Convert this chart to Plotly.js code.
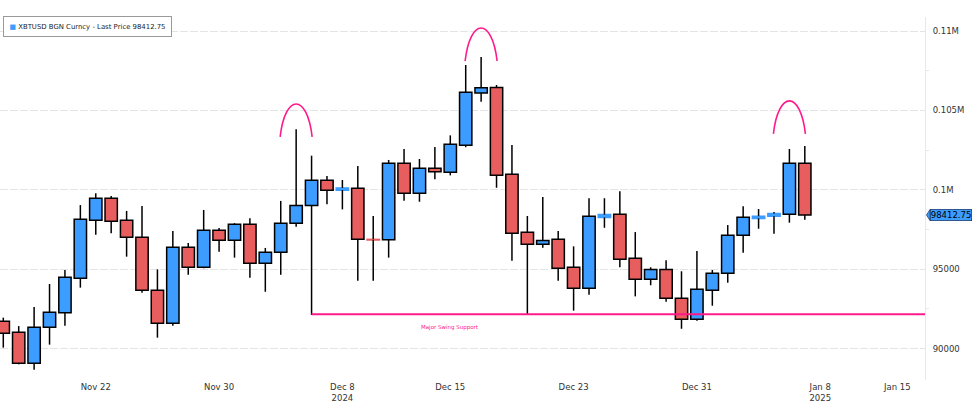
<!DOCTYPE html>
<html>
<head>
<meta charset="utf-8">
<script src="https://cdn.plot.ly/plotly-3.0.1.min.js"></script>
<style>html,body{margin:0;padding:0;background:#fff}#chart{width:978px;height:412px}</style>
</head>
<body>
<div id="chart"></div>
<script>
// ---- data (daily XBTUSD candles) ----
var dates = ['2024-11-16','2024-11-17','2024-11-18','2024-11-19','2024-11-20','2024-11-21','2024-11-22','2024-11-23','2024-11-24','2024-11-25','2024-11-26','2024-11-27','2024-11-28','2024-11-29','2024-11-30',
  '2024-12-01','2024-12-02','2024-12-03','2024-12-04','2024-12-05','2024-12-06','2024-12-07','2024-12-08','2024-12-09','2024-12-10','2024-12-11','2024-12-12','2024-12-13','2024-12-14','2024-12-15','2024-12-16','2024-12-17','2024-12-18','2024-12-19','2024-12-20','2024-12-21','2024-12-22','2024-12-23','2024-12-24','2024-12-25','2024-12-26','2024-12-27','2024-12-28','2024-12-29','2024-12-30','2024-12-31',
  '2025-01-01','2025-01-02','2025-01-03','2025-01-04','2025-01-05','2025-01-06','2025-01-07'];
var opens  = [91720,91030,89080,91340,92260,94430,98080,99470,98080,97010,93670,91590,96380,95120,97450,
  96820,97830,95370,96070,97890,99020,100600,99980,100100,96880,96860,101670,99780,101350,101100,102800,106100,106450,100980,97320,96570,96880,95120,93800,98260,98460,95690,94370,94990,93170,91850,
  93670,94740,97140,98200,98330,98460,101670];
var highs  = [91950,91420,92620,94070,94950,99040,99780,99610,98670,98980,94990,97410,96650,98730,97600,
  97900,98210,96340,99300,103810,102150,100870,100620,101500,98350,101880,102570,101940,102700,103430,107860,108360,106600,102820,98350,99550,97410,96440,99470,99470,99910,97340,95120,95560,94870,96150,
  94950,97780,98960,98790,98600,102570,102760];
var lows   = [90060,89010,88670,90250,91440,93840,97170,97260,95790,93520,90690,91440,94650,95060,96100,
  95730,94470,93580,94650,97680,92120,99090,98770,94280,94280,95730,99310,99250,100660,100910,102680,105550,100130,95540,92160,96350,94280,92390,93400,97610,95120,93290,93990,92950,91250,91760,
  92700,94150,96040,97550,97240,97930,98120];
var closes = [90960,89080,91340,92290,94490,98140,99470,98020,97010,93670,91590,96380,95120,97450,96820,
  97830,95370,96070,97890,99020,100600,99970,100120,96880,96840,101670,99780,101350,101140,102870,106140,106420,100910,97260,96570,96810,95060,93800,98330,98440,95620,94370,94990,93170,91850,93740,
  94740,97140,98270,98340,98510,101670,98412.75];

var seriesName = 'XBTUSD BGN Curncy - Last Price';
var lastPrice = 98412.75;
var supportPrice = 92160;
var supportStart = '2024-12-06';
var supportLabel = 'Major Swing Support';
var supportLabelDate = '2024-12-15';
var supportLabelPrice = 91350;

// head & shoulders markers (centre date, price at the arc's feet)
var arcDates  = ['2024-12-05','2024-12-17','2025-01-06'];
var arcPrices = [103330, 108110, 103520];

var yTickVals = [90000, 95000, 100000, 105000, 110000];
var yTickText = ['90000', '95000', '0.1M', '0.105M', '0.11M'];
// last label is pulled inside the plot, as in the source chart
var xTickVals = ['2024-11-22','2024-11-30','2024-12-08','2024-12-15','2024-12-23','2024-12-31','2025-01-08','2025-01-13'];
var xTickText = ['Nov 22','Nov 30','Dec 8<br>2024','Dec 15','Dec 23','Dec 31','Jan 8<br>2025','Jan 15'];

// ---- styling ----
var BLUE = '#3d9cff', RED = '#e85e5e', PINK = '#ff1a8c';
var DAY = 86400000;
var FONT = 'DejaVu Sans';

function buildChart() {
  var wx = [], wy = [];
  var groups = {upN:{x:[],b:[],h:[]}, dnN:{x:[],b:[],h:[]}, upS:{x:[],b:[],h:[]}, dnS:{x:[],b:[],h:[]}};
  for (var i = 0; i < dates.length; i++) {
    var o = opens[i], c = closes[i];
    var bodyHi = Math.max(o, c), bodyLo = Math.min(o, c);
    wx.push(dates[i], dates[i], null, dates[i], dates[i], null);
    wy.push(highs[i], bodyHi, null, bodyLo, lows[i], null);
    var small = Math.abs(c - o) < 200;
    var key = (c >= o ? 'up' : 'dn') + (small ? 'S' : 'N');
    groups[key].x.push(dates[i]); groups[key].b.push(bodyLo); groups[key].h.push(bodyHi - bodyLo);
  }
  function body(g, fill, lineCol) {
    return {type:'bar', x:g.x, base:g.b, y:g.h, width:0.8*DAY,
      marker:{color:fill, line:{color:lineCol, width:1.5}}, showlegend:false, hoverinfo:'skip'};
  }
  var traces = [
    body(groups.upN, BLUE, '#000'),
    body(groups.dnN, RED, '#000'),
    body(groups.upS, BLUE, BLUE),
    body(groups.dnS, RED, RED),
    {type:'scatter', mode:'lines', x:wx, y:wy, line:{color:'#000', width:1.5, simplify:false}, showlegend:false, hoverinfo:'skip', connectgaps:false}
  ];

  var shapes = [
    {type:'line', xref:'x', yref:'y', x0:supportStart, x1:'2025-01-14 19:08', y0:supportPrice, y1:supportPrice,
     line:{color:PINK, width:2}}
  ];
  for (var k = 0; k < arcDates.length; k++) {
    shapes.push({type:'path', xref:'x', yref:'y', xsizemode:'pixel', ysizemode:'pixel',
      xanchor:arcDates[k], yanchor:arcPrices[k], path:'M-16,0 C-11,44 11,44 16,0',
      line:{color:PINK, width:1.6}});
  }
  // pointer of the last-price tag
  shapes.push({type:'path', xref:'paper', yref:'y', xsizemode:'pixel', ysizemode:'pixel',
    xanchor:1, yanchor:lastPrice, path:'M1.5,0 L5,5.5 L5,-5.5 Z', fillcolor:BLUE, line:{color:'#1b3f73', width:0.8}});

  var layout = {
    width:978, height:412,
    margin:{l:0, r:53, t:17, b:32, pad:0},
    paper_bgcolor:'#fff', plot_bgcolor:'#fff',
    barmode:'overlay', showlegend:false,
    font:{family:FONT, size:8.5, color:'#333'},
    xaxis:{type:'date', range:['2024-11-15 18:53','2025-01-14 19:08'], tickmode:'array', tickvals:xTickVals, ticktext:xTickText,
      showgrid:false, zeroline:false, showline:false, ticks:'', tickfont:{family:FONT, size:8.5, color:'#333'}, fixedrange:true},
    yaxis:{side:'right', range:[88024, 110882], tickmode:'array', tickvals:yTickVals, ticktext:yTickText,
      showgrid:true, gridcolor:'#e4e4e4', griddash:'8px,2px', gridwidth:1, zeroline:false,
      showline:true, linecolor:'#f6e2e2', linewidth:1, ticks:'', ticklabelstandoff:5,
      tickfont:{family:FONT, size:8.5, color:'#333'},
      minor:{tickmode:'array', tickvals:[92500, 97500, 102500, 107500], ticks:'outside', ticklen:3, tickcolor:'#f6e2e2', showgrid:false},
      fixedrange:true},
    shapes:shapes,
    annotations:[
      {xref:'paper', yref:'paper', x:0.003, y:1.003, xanchor:'left', yanchor:'top', showarrow:false,
       text:'<span style="color:' + BLUE + '">■</span> ' + seriesName + ' ' + lastPrice.toFixed(2),
       font:{family:FONT, size:6.9, color:'#222'}, bgcolor:'#fff', bordercolor:'#9a9a9a', borderwidth:1, borderpad:5.5},
      {xref:'paper', yref:'y', x:1, y:lastPrice, xanchor:'left', yanchor:'middle', xshift:5, showarrow:false,
       text:lastPrice.toFixed(2), font:{family:FONT, size:8.5, color:'#000'}, bgcolor:BLUE, bordercolor:'#1b3f73', borderwidth:0.8, borderpad:0},
      {xref:'x', yref:'y', x:supportLabelDate, y:supportLabelPrice, showarrow:false, text:supportLabel,
       font:{family:FONT, size:5.5, color:PINK}}
    ]
  };
  Plotly.newPlot('chart', traces, layout, {staticPlot:true, displayModeBar:false});
}
buildChart();
</script>
</body>
</html>
